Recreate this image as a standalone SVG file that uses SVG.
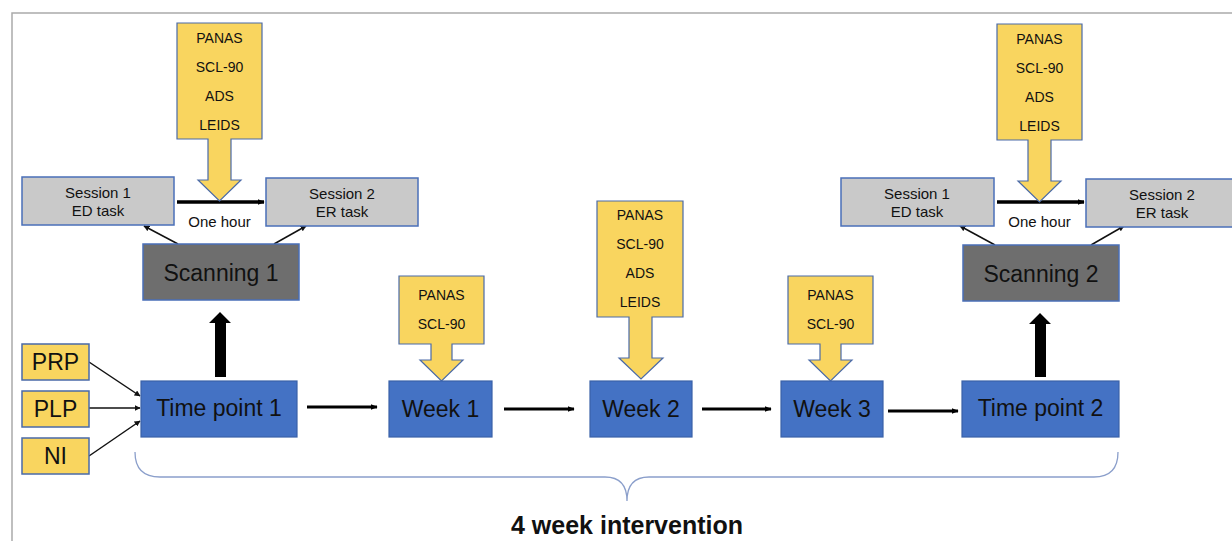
<svg xmlns="http://www.w3.org/2000/svg" width="1232" height="541" viewBox="0 0 1232 541">
<style>
text{font-family:"Liberation Sans",Arial,sans-serif;fill:#111;text-anchor:middle}
.call{fill:#f9d55f;stroke:#4a6aa8;stroke-width:1.2}
.ses{fill:#c9c9c9;stroke:#4a6fb8;stroke-width:1.5}
.scan{fill:#6e6e6e;stroke:#4a6fb8;stroke-width:1.5}
.blue{fill:#4472c4;stroke:#3a62a8;stroke-width:1.2}
.inp{fill:#f9d55f;stroke:#4a6aa8;stroke-width:1.5}
.t14{font-size:14px}
.t15{font-size:15px}
.t23{font-size:23px}
.thin{stroke:#111;stroke-width:1.5;fill:none;marker-end:url(#ah)}
.mid{stroke:#000;stroke-width:3;fill:none;marker-end:url(#ah2)}
.big{fill:#000}
</style>
<defs>
<marker id="ah" viewBox="0 0 10 10" refX="9" refY="5" markerWidth="6" markerHeight="6" orient="auto" markerUnits="userSpaceOnUse"><path d="M0,0 L10,5 L0,10 Z" fill="#111"/></marker>
<marker id="ah2" viewBox="0 0 10 10" refX="9" refY="5" markerWidth="7" markerHeight="7" orient="auto" markerUnits="userSpaceOnUse"><path d="M0,1 L10,5 L0,9 Z" fill="#000"/></marker>
</defs>
<rect width="1232" height="541" fill="#fff"/>
<path d="M12,541 V13 H1232" fill="none" stroke="#aaa" stroke-width="1.5"/>

<g id="connectors">
<line class="thin" x1="178" y1="244" x2="144" y2="226"/>
<line class="thin" x1="274" y1="244" x2="306" y2="226"/>
<line class="thin" x1="995" y1="245" x2="960" y2="226"/>
<line class="thin" x1="1091" y1="245" x2="1124" y2="226"/>
<line class="mid" x1="177" y1="202" x2="264" y2="202" style="stroke-width:3.5"/>
<line class="mid" x1="997" y1="202" x2="1084" y2="202" style="stroke-width:3.5"/>
<line class="thin" x1="89" y1="362" x2="140" y2="396"/>
<line class="thin" x1="89" y1="408" x2="140" y2="408"/>
<line class="thin" x1="89" y1="456" x2="140" y2="421"/>
<line class="mid" x1="307" y1="407" x2="377" y2="407"/>
<line class="mid" x1="504" y1="409" x2="574" y2="409"/>
<line class="mid" x1="702" y1="409" x2="771" y2="409"/>
<line class="mid" x1="888" y1="411" x2="958" y2="411"/>
<polygon class="big" points="215,377 215,323 209,323 220,312 231,323 226,323 226,377"/>
<polygon class="big" points="1035,377 1035,324 1029,324 1040,313 1051,324 1046,324 1046,377"/>
<path d="M135,452 Q135,477 160,477 L605,477 Q627,477 627,501 Q627,477 649,477 L1094,477 Q1118,477 1118,452" fill="none" stroke="#8b9fcb" stroke-width="1.3"/>
</g>

<g id="callout-top1">
<path class="call" d="M177,23 H262 V139 H231 V180 H241 L219.5,201 L198,180 H208 V139 H177 Z"/>
<text class="t14" x="219.5" y="43">PANAS</text>
<text class="t14" x="219.5" y="72">SCL-90</text>
<text class="t14" x="219.5" y="101">ADS</text>
<text class="t14" x="219.5" y="130">LEIDS</text>
</g>
<g id="callout-top2">
<path class="call" d="M997,24 H1082 V140 H1051 V181 H1061 L1039.5,202 L1018,181 H1028 V140 H997 Z"/>
<text class="t14" x="1039.5" y="44">PANAS</text>
<text class="t14" x="1039.5" y="73">SCL-90</text>
<text class="t14" x="1039.5" y="102">ADS</text>
<text class="t14" x="1039.5" y="131">LEIDS</text>
</g>
<g id="callout-week1">
<path class="call" d="M399,276 H484 V344 H452 V360 H463 L441.5,381 L420,360 H431 V344 H399 Z"/>
<text class="t14" x="441.5" y="300">PANAS</text>
<text class="t14" x="441.5" y="329">SCL-90</text>
</g>
<g id="callout-week2">
<path class="call" d="M597,201 H683 V317 H652 V358 H663 L641,379 L619,358 H629 V317 H597 Z"/>
<text class="t14" x="640" y="220">PANAS</text>
<text class="t14" x="640" y="249">SCL-90</text>
<text class="t14" x="640" y="278">ADS</text>
<text class="t14" x="640" y="307">LEIDS</text>
</g>
<g id="callout-week3">
<path class="call" d="M788,276 H873 V344 H841 V360 H852 L830.5,381 L809,360 H820 V344 H788 Z"/>
<text class="t14" x="830.5" y="300">PANAS</text>
<text class="t14" x="830.5" y="329">SCL-90</text>
</g>

<g id="session1-a"><rect class="ses" x="22" y="177" width="152" height="48"/><text class="t15" x="98" y="198">Session 1</text><text class="t15" x="98" y="216">ED task</text></g>
<g id="session2-a"><rect class="ses" x="266" y="178" width="152" height="48"/><text class="t15" x="342" y="199">Session 2</text><text class="t15" x="342" y="217">ER task</text></g>
<g id="onehour-a"><text class="t15" x="219.5" y="227">One hour</text></g>
<g id="scanning1"><rect class="scan" x="143" y="244" width="156" height="56"/><text class="t23" x="221" y="281">Scanning 1</text></g>

<g id="session1-b"><rect class="ses" x="841" y="178" width="153" height="48"/><text class="t15" x="917" y="199">Session 1</text><text class="t15" x="917" y="217">ED task</text></g>
<g id="session2-b"><rect class="ses" x="1086" y="179" width="152" height="48"/><text class="t15" x="1162" y="200">Session 2</text><text class="t15" x="1162" y="218">ER task</text></g>
<g id="onehour-b"><text class="t15" x="1039.5" y="227">One hour</text></g>
<g id="scanning2"><rect class="scan" x="963" y="245" width="156" height="56"/><text class="t23" x="1041" y="282">Scanning 2</text></g>

<g id="prp"><rect class="inp" x="22" y="344" width="67" height="36"/><text class="t23" x="55.5" y="370">PRP</text></g>
<g id="plp"><rect class="inp" x="22" y="391" width="67" height="36"/><text class="t23" x="55.5" y="417">PLP</text></g>
<g id="ni"><rect class="inp" x="22" y="438" width="67" height="36"/><text class="t23" x="55.5" y="464">NI</text></g>

<g id="timepoint1"><rect class="blue" x="141" y="381" width="156" height="56"/><text class="t23" x="219" y="416">Time point 1</text></g>
<g id="week1"><rect class="blue" x="389" y="381" width="103" height="56"/><text class="t23" x="440.5" y="417">Week 1</text></g>
<g id="week2"><rect class="blue" x="590" y="381" width="102" height="56"/><text class="t23" x="641" y="417">Week 2</text></g>
<g id="week3"><rect class="blue" x="781" y="381" width="102" height="56"/><text class="t23" x="832" y="417">Week 3</text></g>
<g id="timepoint2"><rect class="blue" x="962" y="381" width="157" height="56"/><text class="t23" x="1040.5" y="416">Time point 2</text></g>

<g id="label"><text x="627" y="534" style="font-size:25px;font-weight:bold">4 week intervention</text></g>
</svg>
